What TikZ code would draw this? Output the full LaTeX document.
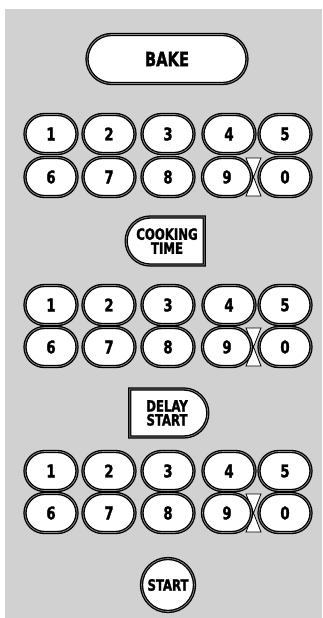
\documentclass[tikz,border=0pt]{standalone}
\usepackage{fontspec}
\setmainfont{DejaVu Sans Condensed}[BoldFont={DejaVu Sans Condensed Bold}, BoldFeatures={FakeBold=1.6}, FakeStretch=0.84]
\usetikzlibrary{shapes.misc}
\definecolor{bgcol}{gray}{0.82}
\begin{document}
\begin{tikzpicture}[x=1pt,y=-1pt,
  btn/.style={draw=black, line width=1.3pt, double=black!45, double distance=0.7pt,
    fill=white, inner sep=0pt, font=\fontsize{17.5}{17.5}\selectfont\bfseries},
  key/.style={btn, rounded rectangle, minimum width=52pt, minimum height=39pt},
  glass/.style={fill=white, draw=black, line width=0.8pt}]
\useasboundingbox (0,0) rectangle (322,618);
\fill[bgcol] (5,9) rectangle (322,618);
% BAKE
\node[btn, rounded rectangle, minimum width=160pt, minimum height=49pt,
  font=\fontsize{19.5}{19.5}\selectfont\bfseries] (bake) at (167,59) {BAKE};
% keypads
\foreach \kp/\ya/\yb in {a/134/177, b/305/347, c/471/513}{
  \filldraw[glass] (246,\yb-19) -- (261,\yb-19) -- (253.5,\yb)
     -- (261,\yb+19) -- (246,\yb+19) -- (253.5,\yb) -- cycle;
  \node[key] (\kp1) at (51,\ya) {1};
  \node[key] (\kp2) at (109,\ya) {2};
  \node[key] (\kp3) at (168,\ya) {3};
  \node[key] (\kp4) at (229,\ya) {4};
  \node[key] (\kp5) at (285,\ya) {5};
  \node[key] (\kp6) at (51,\yb) {6};
  \node[key] (\kp7) at (109,\yb) {7};
  \node[key] (\kp8) at (168,\yb) {8};
  \node[key, minimum width=49pt] (\kp9) at (227,\yb) {9};
  \node[key] (\kp0) at (285,\yb) {0};
}
% COOKING TIME
\node[btn, rounded rectangle, rounded rectangle right arc=none,
  minimum width=78pt, minimum height=48pt, align=center,
  font=\fontsize{15.5}{14}\selectfont\bfseries] (cook) at (167,241) {COOKING\\TIME};
% DELAY START
\node[btn, rounded rectangle, rounded rectangle left arc=none,
  minimum width=78pt, minimum height=48pt, align=center,
  font=\fontsize{15.5}{14}\selectfont\bfseries] (delay) at (167,413) {DELAY\\START};
% START
\node[btn, circle, minimum size=53pt,
  font=\fontsize{15.5}{15.5}\selectfont\bfseries] (start) at (168,585) {START};
\end{tikzpicture}
\end{document}
